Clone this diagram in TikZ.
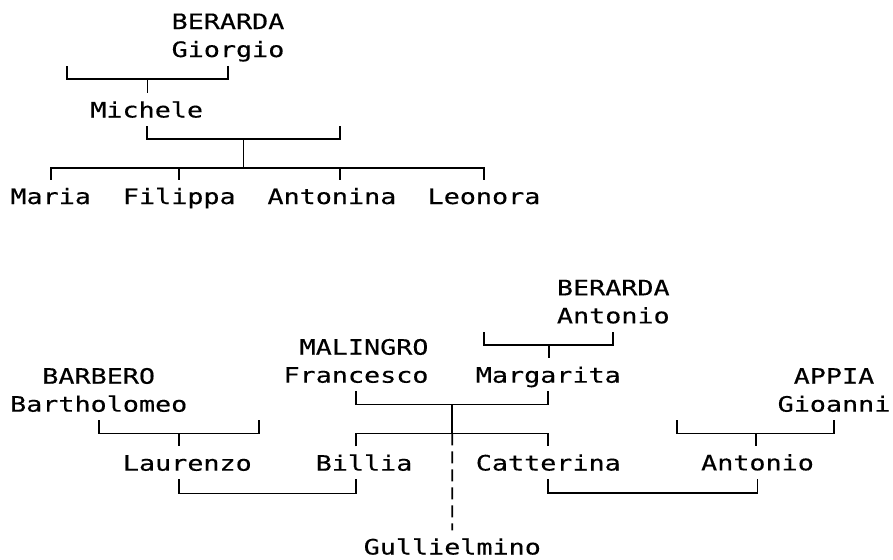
\documentclass[tikz,border=0pt]{standalone}
\usepackage{fontspec}
\setmonofont[FakeStretch=1.26,FakeBold=0.3]{DejaVu Sans Mono}
\usetikzlibrary{positioning}

\begin{document}
\begin{tikzpicture}[
  x=0.025cm, y=-0.025cm,
  txt/.style={font=\ttfamily\fontsize{15.1pt}{19.9pt}\selectfont,inner sep=0pt,text height=11pt,text depth=0pt},
  person/.style={txt,outer ysep=6.25pt,anchor=base},
  family/.style={txt,outer sep=0pt},
  padl/.style={execute at begin node={\hspace*{11.45pt}}},
  padr/.style={execute at end node={\hspace*{11.45pt}}},
  tie/.style={line width=1.2pt},
  dashtie/.style={tie,dash pattern=on 8.5pt off 4.3pt}
]
\useasboundingbox (0,0) rectangle (893,559);

\node[person] (giorgio) at (228,57) {Giorgio};
\node[family,above=2.65pt of giorgio] (berardaG) {BERARDA};
\node[person] (michele) at (146.7,117.5) {Michele};
\node[person] (maria) at (50.7,204) {Maria};
\node[person] (filippa) at (179.3,204) {Filippa};
\node[person,padr] (antonina) at (340,204) {Antonina};
\node[person] (leonora) at (484,204) {Leonora};
\coordinate (wifeG) at (66.7,0 |- giorgio.south);
\coordinate (wifeM) at (340,0 |- michele.south);

\node[person] (antonioB) at (613.3,323.3) {Antonio};
\node[family,above=2.65pt of antonioB] (berardaA) {BERARDA};
\node[person] (francesco) at (356,382.7) {Francesco};
\node[family,padl,above=2.65pt of francesco] (malingro) {MALINGRO};
\node[person] (margarita) at (548.3,382.7) {Margarita};
\node[person] (bartholomeo) at (98.7,411.7) {Bartholomeo};
\node[family,above=2.65pt of bartholomeo] (barbero) {BARBERO};
\node[person] (gioanni) at (834,411.7) {Gioanni};
\node[family,above=2.65pt of gioanni] (appia) {APPIA};
\node[person,padl] (laurenzo) at (179.3,470.7) {Laurenzo};
\node[person,padl] (billia) at (356,470.7) {Billia};
\node[person] (catterina) at (548.3,470.5) {Catterina};
\node[person] (antonioA) at (757.5,470.3) {Antonio};
\node[person] (gullielmino) at (452.3,554.5) {Gullielmino};
\coordinate (wifeA) at (484,0 |- antonioB.south);
\coordinate (wifeB) at (259.3,0 |- bartholomeo.south);
\coordinate (wifeP) at (677.3,0 |- gioanni.south);

\draw[tie] (giorgio.south) -- ++(0,13) -| coordinate[pos=.25] (midG) (wifeG);
\draw[tie] (midG) -- (midG |- michele.north);
\draw[tie] (michele.south) -- ++(0,13) -| coordinate[pos=.25] (midM) (wifeM);
\draw[tie] (maria.north) -- ++(0,-12) coordinate (kidsM) -| (leonora.north);
\draw[tie] (filippa.north) -- (filippa.north |- kidsM);
\draw[tie] (antonina.north) -- (antonina.north |- kidsM);
\draw[tie] (midM) -- (midM |- kidsM);

\draw[tie] (antonioB.south) -- ++(0,13) -| coordinate[pos=.25] (midA) (wifeA);
\draw[tie] (midA) -- (midA |- margarita.north);
\draw[tie] (francesco.south) -- ++(0,13) -| coordinate[pos=.25] (midF) (margarita.south);
\draw[tie] (billia.north) -- ++(0,-13) coordinate (kidsF) -| (catterina.north);
\draw[tie] (midF) -- (midF |- kidsF);
\draw[dashtie] (midF |- kidsF) -- (gullielmino.north);
\draw[tie] (bartholomeo.south) -- ++(0,13) -| coordinate[pos=.25] (midB) (wifeB);
\draw[tie] (midB) -- (midB |- laurenzo.north);
\draw[tie] (gioanni.south) -- ++(0,13) -| coordinate[pos=.25] (midP) (wifeP);
\draw[tie] (midP) -- (midP |- antonioA.north);
\draw[tie] (laurenzo.south) -- ++(0,14) -| (billia.south);
\draw[tie] (catterina.south) -- ++(0,14) -| (antonioA.south);
\end{tikzpicture}
\end{document}
